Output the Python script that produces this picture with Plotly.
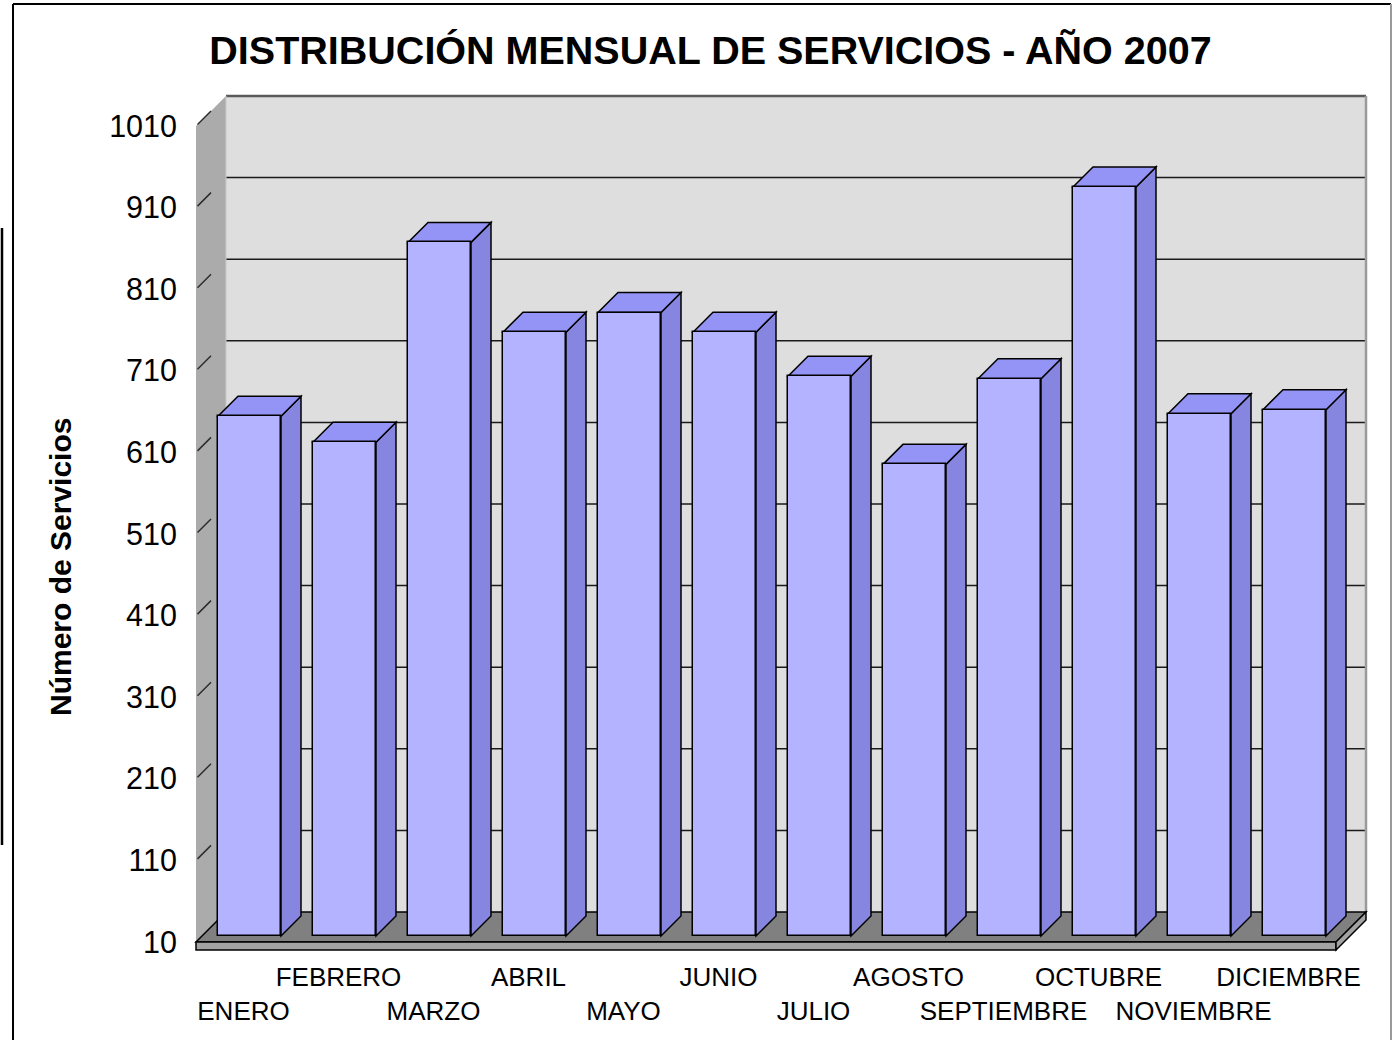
import plotly.graph_objects as go

# ---------------- data ----------------
months = ["ENERO", "FEBRERO", "MARZO", "ABRIL", "MAYO", "JUNIO",
          "JULIO", "AGOSTO", "SEPTIEMBRE", "OCTUBRE", "NOVIEMBRE", "DICIEMBRE"]
servicios = [647, 615, 860, 750, 774, 750, 696, 588, 693, 928, 650, 655]
y_ticks = list(range(10, 1011, 100))

title_text = "DISTRIBUCIÓN MENSUAL DE SERVICIOS - AÑO 2007"
y_title = "Número de Servicios"

# ---------------- geometry / style (pixels) ----------------
W, H = 1396, 1040
PX_CAT = 95.0          # px per category on the front plane
PX_UNIT = 0.816        # px per value unit
FRONT_LEFT = 196
FRONT_BOTTOM = 942
DEPTH_PX = 30
BAR_OFF_PX = 6
BAR_DEPTH_PX = 20
BAR_W_PX = 63
SLAB_PX = 8
PAD = 2

n = len(months)
y0, y1 = y_ticks[0], y_ticks[-1]
x_lo, x_hi = -0.5, n - 0.5

ddx, ddy = DEPTH_PX / PX_CAT, DEPTH_PX / PX_UNIT
fx, fy = BAR_OFF_PX / PX_CAT, BAR_OFF_PX / PX_UNIT
bx, by = BAR_DEPTH_PX / PX_CAT, BAR_DEPTH_PX / PX_UNIT
bw = BAR_W_PX / PX_CAT
slab = SLAB_PX / PX_UNIT

m_l = FRONT_LEFT - PAD
m_r = W - (FRONT_LEFT + n * PX_CAT + DEPTH_PX + PAD)
m_t = FRONT_BOTTOM - (y1 - y0) * PX_UNIT - DEPTH_PX - PAD
m_b = H - (FRONT_BOTTOM + SLAB_PX + PAD)
plot_w = W - m_l - m_r
plot_h = H - m_t - m_b

x_range = [x_lo - PAD / PX_CAT, x_hi + (DEPTH_PX + PAD) / PX_CAT]
y_range = [y0 - (SLAB_PX + PAD) / PX_UNIT, y1 + (DEPTH_PX + PAD) / PX_UNIT]


def px_to_paper(px, py):
    return (px - m_l) / plot_w, 1 - (py - m_t) / plot_h


def poly(pts, fill, line_color="black", width=1.5, layer="below"):
    d = "M " + " L ".join(f"{x},{y}" for x, y in pts) + " Z"
    return dict(type="path", path=d, xref="x", yref="y", fillcolor=fill,
                line=dict(color=line_color, width=width), layer=layer)


def seg(xa, ya, xb, yb, color, width, ref="data", layer="below"):
    r = ("x", "y") if ref == "data" else ("paper", "paper")
    return dict(type="line", x0=xa, y0=ya, x1=xb, y1=yb, xref=r[0], yref=r[1],
                line=dict(color=color, width=width), layer=layer)


FRONT = "#b3b3ff"
TOP = "#9494f6"
SIDE = "#8686e0"
BACK = "#dedede"
LEFTWALL = "#ababab"
FLOOR = "#808080"
SLAB = "#a3a3a3"

shapes = []
# back wall
shapes.append(poly([(x_lo + ddx, y0 + ddy), (x_hi + ddx, y0 + ddy),
                    (x_hi + ddx, y1 + ddy), (x_lo + ddx, y1 + ddy)], BACK,
                   line_color="rgba(0,0,0,0)", width=0))
# left wall
shapes.append(poly([(x_lo, y0), (x_lo, y1), (x_lo + ddx, y1 + ddy),
                    (x_lo + ddx, y0 + ddy)], LEFTWALL, line_color="rgba(0,0,0,0)", width=0))
# gridlines on back wall and left wall
for v in y_ticks[1:-1]:
    shapes.append(seg(x_lo + ddx, v + ddy, x_hi + ddx, v + ddy, "#1a1a1a", 1.5))
for v in y_ticks[1:]:
    shapes.append(seg(x_lo + ddx * 0.05, v + ddy * 0.05, x_lo + ddx * 0.5, v + ddy * 0.5,
                      "#2a2a2a", 1.5))
# top edge & right edge of back wall
shapes.append(seg(x_lo + ddx, y1 + ddy, x_hi + ddx, y1 + ddy, "#5a5a5a", 2.5))
shapes.append(seg(x_hi + ddx, y0 + ddy, x_hi + ddx, y1 + ddy, "#9a9a9a", 2.5))
shapes.append(seg(x_lo + ddx, y0 + ddy, x_lo + ddx, y1 + ddy, "#c8c8c8", 1))
# floor top
shapes.append(poly([(x_lo, y0), (x_hi, y0), (x_hi + ddx, y0 + ddy),
                    (x_lo + ddx, y0 + ddy)], FLOOR, width=1.5))
# slab front and right side
shapes.append(poly([(x_lo, y0 - slab), (x_hi, y0 - slab), (x_hi, y0), (x_lo, y0)],
                   SLAB, width=1.5))
shapes.append(poly([(x_hi, y0 - slab), (x_hi + ddx, y0 + ddy - slab),
                    (x_hi + ddx, y0 + ddy), (x_hi, y0)], SLAB, width=1.5))

# bar top and side faces
base = y0 + fy
for i, v in enumerate(servicios):
    xl = i + fx - bw / 2
    xr = i + fx + bw / 2
    top = v + fy
    shapes.append(poly([(xr, base), (xr, top), (xr + bx, top + by), (xr + bx, base + by)],
                       SIDE, width=1.5))
    shapes.append(poly([(xl, top), (xr, top), (xr + bx, top + by), (xl + bx, top + by)],
                       TOP, width=1.5))

# outer border lines (paper)
bl = px_to_paper(13, 4)
br = px_to_paper(1391, 4)
bb = px_to_paper(13, 1045)
shapes.append(seg(bl[0], bl[1], bl[0], bb[1], "black", 2, ref="paper", layer="above"))
shapes.append(seg(bl[0], bl[1], br[0], br[1], "black", 2, ref="paper", layer="above"))
shapes.append(seg(br[0], br[1], br[0], bb[1], "#9a9a9a", 2, ref="paper", layer="above"))
e1 = px_to_paper(2, 228)
e2 = px_to_paper(2, 845)
shapes.append(seg(e1[0], e1[1], e2[0], e2[1], "black", 2.5, ref="paper", layer="above"))

# x tick labels in two alternating rows
tick_text = [f"<br>{m}" if i % 2 == 0 else f"{m}<br> " for i, m in enumerate(months)]

fig = go.Figure()
fig.add_trace(go.Bar(
    x=[i + fx for i in range(n)],
    y=[v - y0 for v in servicios],
    base=base,
    width=bw,
    marker=dict(color=FRONT, line=dict(color="black", width=1.5)),
    hovertext=months,
    customdata=servicios,
    hovertemplate="%{hovertext}: %{customdata}<extra></extra>",
    showlegend=False,
))

tx, ty = 710.5 / W, 1 - 50 / H
yx, yy = px_to_paper(60, 567)

fig.update_layout(
    width=W, height=H,
    margin=dict(l=m_l, r=m_r, t=m_t, b=m_b, pad=0),
    paper_bgcolor="white", plot_bgcolor="white",
    font=dict(family="Liberation Sans, Arial, sans-serif", color="black"),
    title=dict(text=f"<b>{title_text}</b>", x=tx, y=ty, xref="container", yref="container",
               xanchor="center", yanchor="middle",
               font=dict(size=39.5, family="Liberation Sans, Arial, sans-serif", color="black")),
    xaxis=dict(range=x_range, tickmode="array", tickvals=list(range(n)), ticktext=tick_text,
               showgrid=False, zeroline=False, showline=False, ticks="",
               tickfont=dict(size=26), tickangle=0, ticklabelstandoff=7, fixedrange=True),
    yaxis=dict(range=y_range, tickmode="array", tickvals=y_ticks,
               ticktext=[str(v) for v in y_ticks],
               showgrid=False, zeroline=False, showline=False, ticks="",
               tickfont=dict(size=30.5), ticklabelstandoff=16, fixedrange=True),
    shapes=shapes,
    annotations=[dict(text=f"<b>{y_title}</b>", x=yx, y=yy, xref="paper", yref="paper",
                      textangle=-90, showarrow=False, xanchor="center", yanchor="middle",
                      font=dict(size=30, color="black"))],
    bargap=0,
)

fig.write_html("out.html", config={"displayModeBar": False},
               post_script="document.body.style.margin='0';")
